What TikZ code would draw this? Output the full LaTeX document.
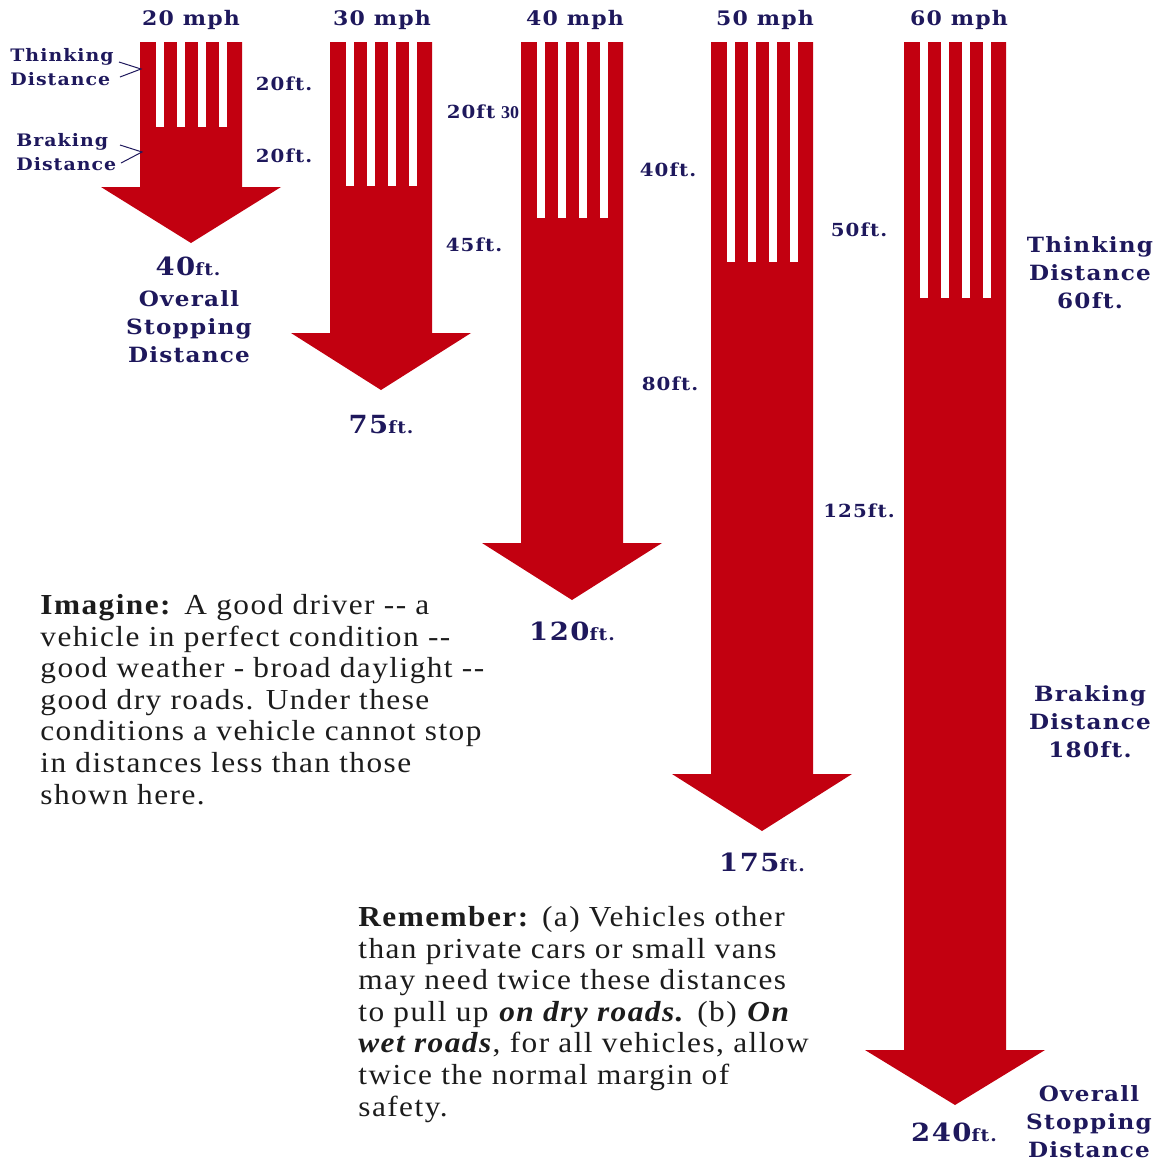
\documentclass[tikz,border=0pt]{standalone}
\usepackage{fontspec}
\newfontfamily\lblfont[FakeStretch=1.1,LetterSpace=6]{DejaVu Serif}
\newfontfamily\txtfont[FakeStretch=1.08,LetterSpace=5]{Liberation Serif}
\newfontfamily\artfont{Liberation Serif}
\definecolor{stopred}{RGB}{194,0,16}
\definecolor{lblblue}{RGB}{30,24,92}
\definecolor{txtgrey}{RGB}{28,28,28}
\newcommand{\ftsmall}{\fontsize{8.5}{10}\selectfont}
\tikzset{
  mph/.style={text=lblblue,font=\lblfont\bfseries\fontsize{10}{12}\selectfont,inner sep=0pt,anchor=base},
  ftlbl/.style={text=lblblue,font=\lblfont\bfseries\fontsize{9}{10}\selectfont,inner sep=0pt,anchor=base},
  sidelbl/.style={text=lblblue,font=\lblfont\bfseries\fontsize{10.5}{14}\selectfont,inner sep=0pt,align=center,anchor=base},
  smalllbl/.style={text=lblblue,font=\lblfont\bfseries\fontsize{8.6}{12}\selectfont,inner sep=0pt,align=left,anchor=base west},
  total/.style={text=lblblue,font=\lblfont\bfseries\fontsize{12.5}{14}\selectfont,inner sep=0pt,anchor=base},
  para/.style={text=txtgrey,font=\txtfont\fontsize{14.5}{15.8}\selectfont,inner sep=0pt,align=left,anchor=north west},
  chev/.style={draw=lblblue,line width=0.5pt},
}
\begin{document}
\begin{tikzpicture}[x=0.5pt,y=-0.5pt]
\useasboundingbox (0,0) rectangle (1162,1163);

% arrows: centre / end of stripes / base of head / tip
\foreach \cx/\se/\hb/\tp in {191/127/187/243, 381/186/333/390, 572/218/543/600, 762/262/774/831, 955/298/1050/1105}{
  \fill[stopred] (\cx-51,42) -- (\cx+51,42) -- (\cx+51,\hb) -- (\cx+90,\hb)
        -- (\cx,\tp) -- (\cx-90,\hb) -- (\cx-51,\hb) -- cycle;
  \foreach \dx in {-31.5,-10.5,10.5,31.5}
    \fill[white] (\cx+\dx-4,41) rectangle (\cx+\dx+4,\se); % thinking stripes
}

% speeds
\node[mph] (mph20) at (191,25) {20 mph};
\node[mph] (mph30) at (382,25) {30 mph};
\node[mph] (mph40) at (575,25) {40 mph};
\node[mph] (mph50) at (765,25) {50 mph};
\node[mph] (mph60) at (959,25) {60 mph};

% key on the 20 mph arrow (base = last line)
\node[smalllbl] (thk20) at (10,85) {Thinking\\Distance};
\node[smalllbl] (brk20) at (16,170) {Braking\\Distance};
\coordinate (thkA) at (119,62);
\coordinate (thkTip) at (141,69);
\coordinate (thkB) at (120,77);
\coordinate (brkA) at (120,145);
\coordinate (brkTip) at (142,152);
\coordinate (brkB) at (121,163);
\draw[chev] (thkA) -- (thkTip) -- (thkB);
\draw[chev] (brkA) -- (brkTip) -- (brkB);

% part distances
\node[ftlbl] (d20a) at (284,90) {20ft.};
\node[ftlbl] (d20b) at (284,162) {20ft.};
\node[ftlbl] (d30a) at (471,118) {20ft};
\node[fill=white,inner sep=1pt,text=lblblue,font=\artfont\bfseries\fontsize{9}{10}\selectfont,anchor=base] (d30x) at (510,118) {30};
\node[ftlbl] (d30b) at (474,251) {45ft.};
\node[ftlbl] (d40a) at (668,176) {40ft.};
\node[ftlbl] (d40b) at (670,390) {80ft.};
\node[ftlbl] (d50a) at (859,236) {50ft.};
\node[ftlbl] (d50b) at (859,517) {125ft.};

% overall distances
\node[total] (tot20) at (188,275) {40{\ftsmall ft.}};
\node[sidelbl] (ovr20) at (189,362) {Overall\\Stopping\\Distance};
\node[total] (tot30) at (381,433) {75{\ftsmall ft.}};
\node[total] (tot40) at (572,640) {120{\ftsmall ft.}};
\node[total] (tot50) at (762,871) {175{\ftsmall ft.}};
\node[total] (tot60) at (954,1141) {240{\ftsmall ft.}};

% key on the 60 mph arrow
\node[sidelbl] (thk60) at (1090,308) {Thinking\\Distance\\60ft.};
\node[sidelbl] (brk60) at (1090,757) {Braking\\Distance\\180ft.};
\node[sidelbl] (ovr60) at (1089,1157) {Overall\\Stopping\\Distance};

% notes
\node[para] (imagine) at (40,594) {\textbf{Imagine:} A good driver -{}- a\\
vehicle in perfect condition -{}-\\
good weather - broad daylight -{}-\\
good dry roads. Under these\\
conditions a vehicle cannot stop\\
in distances less than those\\
shown here.};
\node[para] (remember) at (358,906) {\textbf{Remember:} (a) Vehicles other\\
than private cars or small vans\\
may need twice these distances\\
to pull up \textbf{\textit{on dry roads.}} (b) \textbf{\textit{On}}\\
\textbf{\textit{wet roads}}, for all vehicles, allow\\
twice the normal margin of\\
safety.};
\end{tikzpicture}
\end{document}
